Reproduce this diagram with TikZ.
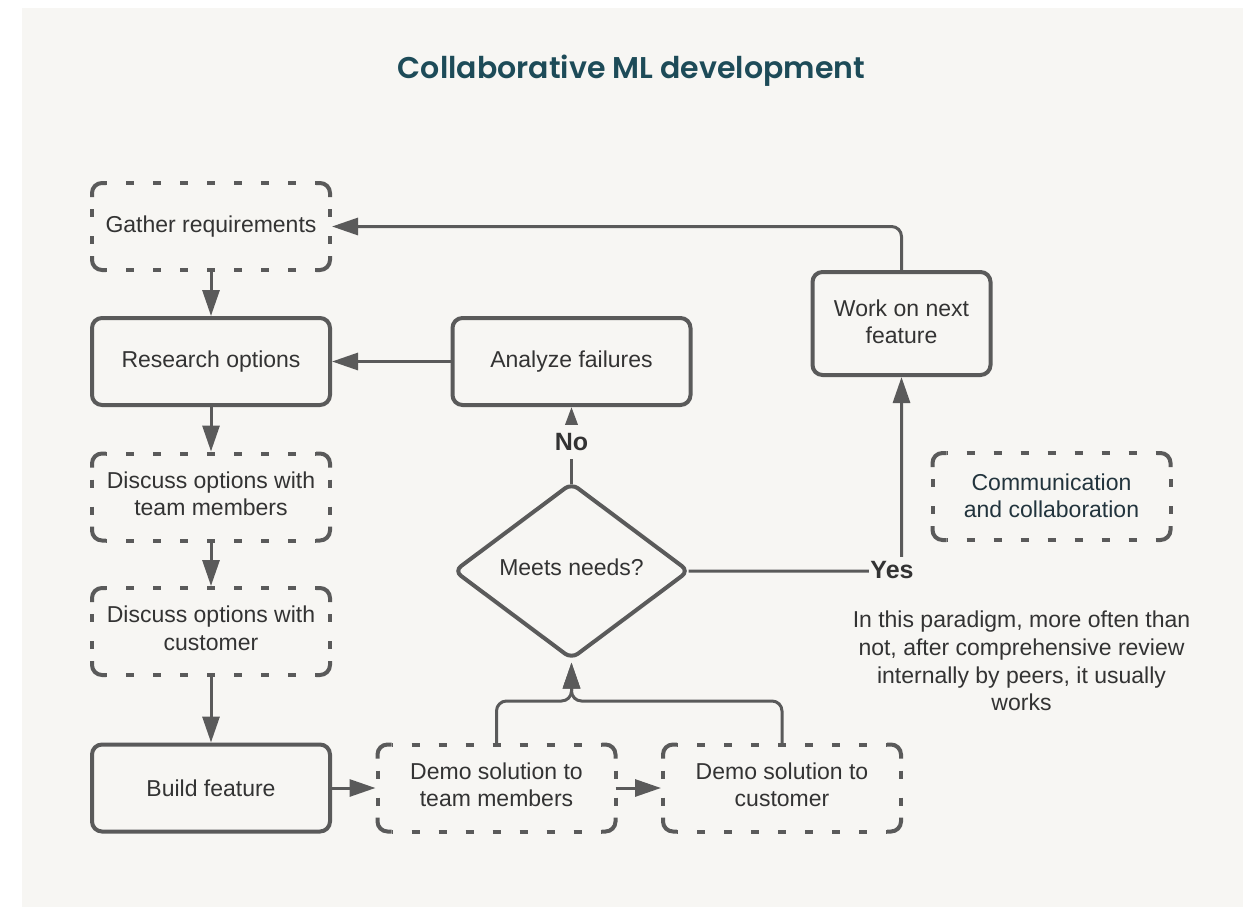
\documentclass[tikz,border=0pt]{standalone}
\usepackage{fontspec}
\setmainfont{Liberation Sans}
\newfontfamily\titlefont{Poppins SemiBold}
\usetikzlibrary{arrows.meta,shapes.geometric,calc}

\definecolor{paper}{HTML}{F7F6F3}
\definecolor{ink}{HTML}{5A5A5A}
\definecolor{txt}{HTML}{333333}
\definecolor{titleblue}{HTML}{1D4B58}
\definecolor{notecolor}{HTML}{22343D}

\tikzset{
  box/.style={rectangle, minimum width=238pt, minimum height=87pt,
    inner sep=0pt, outer sep=0pt, align=center, text=txt,
    font=\fontsize{23}{27.6}\selectfont},
  twoline/.style={text depth=7pt},
  solidbox/.style={box, draw=ink, line width=4pt, rounded corners=10pt},
  dashbox/.style={box},
  framecorner/.style={draw=ink, line width=4pt, rounded corners=10pt},
  hdash/.style={draw=ink, line width=4pt, dash pattern=on 8pt off 19pt, dash phase=7pt},
  vdash/.style={draw=ink, line width=4pt, dash pattern=on 8pt off 19pt, dash phase=15pt},
  conn/.style={draw=ink, line width=3pt, rounded corners=10pt,
    -{Triangle[width=17pt,length=26pt]}, shorten >=2pt},
  lbl/.style={fill=paper, text=txt, inner xsep=4pt, inner ysep=8pt,
    font=\bfseries\fontsize{25}{30}\selectfont},
  plain/.style={text=txt, align=center, font=\fontsize{23}{27.6}\selectfont},
}

% dashed frame with solid rounded corners around a named node
\newcommand\dashframe[1]{%
  \draw[framecorner] ([yshift=-14pt]#1.north west) -- (#1.north west) -- ([xshift=14pt]#1.north west);
  \draw[framecorner] ([xshift=-14pt]#1.north east) -- (#1.north east) -- ([yshift=-14pt]#1.north east);
  \draw[framecorner] ([yshift=14pt]#1.south east) -- (#1.south east) -- ([xshift=-14pt]#1.south east);
  \draw[framecorner] ([xshift=14pt]#1.south west) -- (#1.south west) -- ([yshift=14pt]#1.south west);
  \draw[hdash] ([xshift=14pt]#1.north west) -- ([xshift=-14pt]#1.north east);
  \draw[hdash] ([xshift=14pt]#1.south west) -- ([xshift=-14pt]#1.south east);
  \draw[vdash] ([yshift=-14pt]#1.north west) -- ([yshift=14pt]#1.south west);
  \draw[vdash] ([yshift=-14pt]#1.north east) -- ([yshift=14pt]#1.south east);
}

\begin{document}
\begin{tikzpicture}[x=1pt, y=-1pt]
  \useasboundingbox (0,0) rectangle (1255,907);
  \fill[white] (0,0) rectangle (1255,907);
  \fill[paper] (22,8) rectangle (1243,907);

  % title
  \node[text=titleblue, font=\titlefont\fontsize{30}{36}\selectfont]
    (title) at (631.5,71) {Collaborative ML development};

  % left column
  \node[dashbox]  (gather)   at (211,226.5) {Gather requirements};
  \node[solidbox] (research) at (211,361.5) {Research options};
  \node[dashbox, twoline]  (discteam) at (211,497)   {Discuss options with\\team members};
  \node[dashbox, twoline]  (disccust) at (211,631.5) {Discuss options with\\customer};
  \node[solidbox] (build)    at (211,788)   {Build feature};

  % bottom row
  \node[dashbox, twoline]  (demoteam) at (496.5,788) {Demo solution to\\team members};
  \node[dashbox, twoline]  (democust) at (782,788)   {Demo solution to\\customer};

  % middle
  \node[solidbox] (analyze) at (571.5,361.5) {Analyze failures};
  \node[diamond, draw=ink, line width=4pt, rounded corners=8pt,
        minimum width=234pt, minimum height=175pt, inner sep=0pt, outer sep=0pt,
        text depth=8pt, text=txt, font=\fontsize{23}{27.6}\selectfont]
    (decide) at (571.5,571) {Meets needs?};

  % right side
  \node[solidbox, text depth=4pt, minimum width=178pt, minimum height=103pt]
    (work) at (901.5,323.5) {Work on next\\feature};
  \node[dashbox, text depth=2pt, text=notecolor] (comm) at (1051.5,496.5) {Communication\\and collaboration};
  \node[plain] (note) at (1021.5,661)
    {In this paradigm, more often than\\not, after comprehensive review\\internally by peers, it usually\\works};

  % dashed frames
  \dashframe{gather}
  \dashframe{discteam}
  \dashframe{disccust}
  \dashframe{demoteam}
  \dashframe{democust}
  \dashframe{comm}

  % connectors
  \draw[conn] (gather.south) -- (research.north);
  \draw[conn] (research.south) -- (discteam.north);
  \draw[conn] (discteam.south) -- (disccust.north);
  \draw[conn] (disccust.south) -- (build.north);
  \draw[conn] (build.east) -- (demoteam.west);
  \draw[conn] (demoteam.east) -- (democust.west);
  \draw[conn] (analyze.west) -- (research.east);

  \coordinate (merge) at (571.5,701);
  \draw[conn, shorten >=4pt] (demoteam.north) |- (merge) -- (decide.south);
  \draw[conn, shorten >=4pt] (democust.north) |- (merge) -- (decide.south);

  \draw[conn, -{Triangle[width=13pt,length=19pt]}] (decide.north) -- (analyze.south);
  \node[lbl] (no) at (571.5,442) {No};

  \coordinate (bend) at (901.5,571);
  \draw[conn] (decide.east) -- (bend) -- (work.south);
  \node[lbl, inner xsep=1pt, inner ysep=4pt] (yes) at (892,569.6) {Yes};

  \draw[conn] (work.north) |- (gather.east);
\end{tikzpicture}
\end{document}
